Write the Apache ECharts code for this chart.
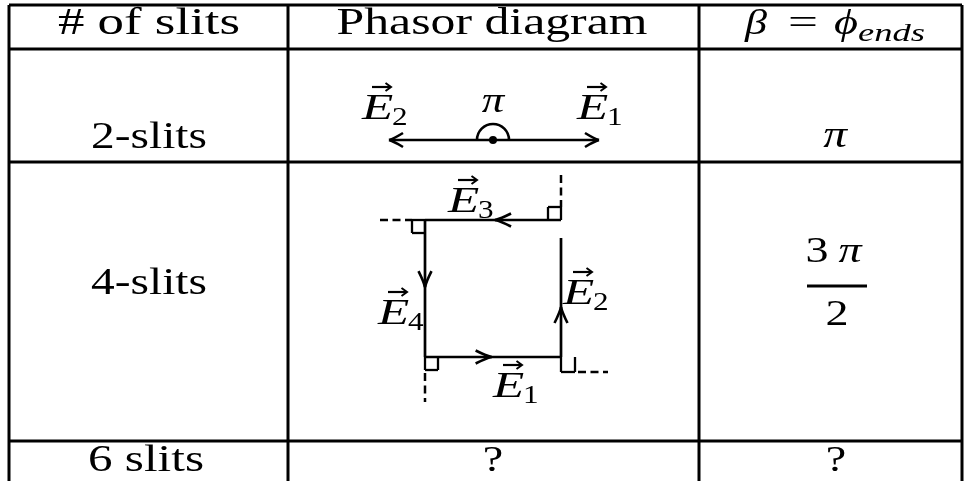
<!DOCTYPE html>
<html><head><meta charset="utf-8">
<script src="https://cdn.jsdelivr.net/npm/echarts@6/dist/echarts.min.js"></script>
<style>html,body{margin:0;padding:0;background:#fff}#c{width:964px;height:481px}</style>
</head><body><div id="c"></div>
<script>
// ---------------- data ----------------
const headers = ['# of slits', 'Phasor diagram'];
const betaHeader = ['β', '=', 'ϕ', 'ends'];
const slitLabels = ['2-slits', '4-slits', '6 slits'];
const betaTwo = 'π';
const betaFourNum = ['3', 'π'];
const betaFourDen = '2';
const unknownMark = '?';
const twoSlitAngleLabel = 'π';
const twoSlitSubscripts = ['1', '2'];
const fourSlitSubscripts = ['1', '2', '3', '4'];

// diagram geometry (diagram units = axis units)
const columnEdges = [9, 288, 699, 962];
const rowEdges = [5, 49, 162, 441];
const tableBottom = 481;
const twoSlitOrigin = [493, 140];
const twoSlitTips = [[599, 140], [389, 140]];            // E1, E2
const fourSlitVectors = [                                  // x1, y1, x2, y2, arrow position (fraction)
  [425, 357, 561, 357, 0.49],
  [561, 357, 561, 238, 0.42],
  [561, 220, 425, 220, 0.485],
  [425, 220, 425, 357, 0.49]
];
const rightAngleMarks = [
  [412, 220, 412, 233], [412, 233, 425, 233], [412, 220, 425, 220],
  [548, 207, 561, 207], [548, 207, 548, 220], [561, 207, 561, 220],
  [425, 370, 438, 370], [438, 357, 438, 370], [425, 357, 425, 370],
  [561, 357, 561, 372], [561, 372, 575, 372], [575, 357, 575, 372]
];
const dashedExtensions = [
  [380, 220, 412, 220],
  [561, 175, 561, 207],
  [425, 373, 425, 402],
  [578, 372, 608, 372]
];
const fractionBar = [[807, 286, 867, 286]];

// ---------------- layout / style ----------------
const FONT = '"Liberation Serif", "DejaVu Serif", serif';
const SX = 1.28;
const MID = 0.34;
const textRuns = [
  // content, x, baseline, size, italic, align, target width (0 = default stretch)
  [headers[0], 149, 37, 37, false, 'center', 182],
  [headers[1], 492, 37, 37, false, 'center', 311],
  [betaHeader[0], 745, 37, 36, true, 'left', 22],
  [betaHeader[1], 803, 37, 36, false, 'center', 30],
  [betaHeader[2], 834, 37, 36, true, 'left', 24],
  [betaHeader[3], 858, 43, 25, true, 'left', 67],
  [slitLabels[0], 149, 151, 37, false, 'center', 116],
  [slitLabels[1], 149, 297, 37, false, 'center', 116],
  [slitLabels[2], 146, 474, 37, false, 'center', 116],
  [betaTwo, 835, 150, 37, true, 'center', 0],
  [betaFourNum[0], 817, 265, 36, false, 'center', 0],
  [betaFourNum[1], 850, 265, 36, true, 'center', 0],
  [betaFourDen, 837, 328, 36, false, 'center', 0],
  [unknownMark, 493, 474, 36, false, 'center', 0],
  [unknownMark, 836, 474, 36, false, 'center', 0],
  [twoSlitAngleLabel, 493, 115, 35, true, 'center', 0]
];
const vectorLabels = [
  // subscript, E left, baseline
  [twoSlitSubscripts[1], 362, 122],
  [twoSlitSubscripts[0], 577, 122],
  [fourSlitSubscripts[2], 448, 215],
  [fourSlitSubscripts[1], 563, 307],
  [fourSlitSubscripts[3], 378, 327],
  [fourSlitSubscripts[0], 493, 400]
];

// ---------------- helpers ----------------
const mctx = document.createElement('canvas').getContext('2d');
function fitScale(str, size, italic, target) {
  if (!target) return SX;
  mctx.font = (italic ? 'italic ' : '') + size + 'px ' + FONT;
  const w = mctx.measureText(str).width;
  return w > 0 ? target / w : SX;
}
function segEl(api, x1, y1, x2, y2, lw, dash) {
  const p = api.coord([x1, y1]), q = api.coord([x2, y2]);
  return {type: 'line', shape: {x1: p[0], y1: p[1], x2: q[0], y2: q[1]},
    style: {stroke: '#000', lineWidth: lw, lineDash: dash || null, lineCap: 'butt'}};
}
function headEl(p, ang, len, hw, lw) {
  const c = Math.cos(ang), s = Math.sin(ang);
  const bx = p[0] - c * len, by = p[1] - s * len;
  const b1 = [bx - s * hw, by + c * hw], b2 = [bx + s * hw, by - c * hw];
  const m = [p[0] - c * len * 0.35, p[1] - s * len * 0.35];
  return {type: 'group', children: [
    {type: 'bezierCurve', shape: {x1: b1[0], y1: b1[1], x2: p[0], y2: p[1], cpx1: m[0] - s * hw * 0.2, cpy1: m[1] + c * hw * 0.2}, style: {stroke: '#000', fill: null, lineWidth: lw}},
    {type: 'bezierCurve', shape: {x1: b2[0], y1: b2[1], x2: p[0], y2: p[1], cpx1: m[0] + s * hw * 0.2, cpy1: m[1] - c * hw * 0.2}, style: {stroke: '#000', fill: null, lineWidth: lw}}
  ]};
}
function textEl(p, str, size, italic, align, sx) {
  return {type: 'text', x: p[0], y: p[1] - MID * size, scaleX: sx || SX, scaleY: 1,
    style: {text: str, fontFamily: FONT, fontSize: size, fontStyle: italic ? 'italic' : 'normal',
      fill: '#000', align: align, verticalAlign: 'middle'}};
}

// table rules
const tableRules = [];
rowEdges.forEach(y => tableRules.push([columnEdges[0], y, columnEdges[3], y]));
columnEdges.forEach(x => tableRules.push([x, rowEdges[0], x, tableBottom]));

const chart = echarts.init(document.getElementById('c'));
chart.setOption({
  animation: false,
  backgroundColor: '#fff',
  grid: {left: 0, right: 0, top: 0, bottom: 0},
  xAxis: {type: 'value', min: 0, max: 964, show: false},
  yAxis: {type: 'value', min: 0, max: 481, inverse: true, show: false},
  series: [
    {type: 'custom', name: 'table', data: tableRules,
      renderItem: (pa, api) => segEl(api, api.value(0), api.value(1), api.value(2), api.value(3), 3)},
    {type: 'custom', name: 'fraction', data: fractionBar,
      renderItem: (pa, api) => segEl(api, api.value(0), api.value(1), api.value(2), api.value(3), 3)},
    {type: 'custom', name: 'marks', data: rightAngleMarks,
      renderItem: (pa, api) => segEl(api, api.value(0), api.value(1), api.value(2), api.value(3), 2.3)},
    {type: 'custom', name: 'dashed', data: dashedExtensions,
      renderItem: (pa, api) => segEl(api, api.value(0), api.value(1), api.value(2), api.value(3), 2.5, [8, 4.5])},
    {type: 'custom', name: 'twoSlit', data: twoSlitTips,
      renderItem: (pa, api) => {
        const o = api.coord(twoSlitOrigin), t = api.coord([api.value(0), api.value(1)]);
        const ang = Math.atan2(t[1] - o[1], t[0] - o[0]);
        const kids = [
          {type: 'line', shape: {x1: o[0], y1: o[1], x2: t[0] - Math.cos(ang), y2: t[1]}, style: {stroke: '#000', lineWidth: 2.7}},
          headEl(t, ang, 14, 7, 2.6)
        ];
        if (pa.dataIndex === 0) {
          kids.push({type: 'arc', shape: {cx: o[0], cy: o[1], r: 16, startAngle: Math.PI, endAngle: 2 * Math.PI, clockwise: true}, style: {stroke: '#000', fill: null, lineWidth: 2.6}});
          kids.push({type: 'circle', shape: {cx: o[0], cy: o[1], r: 4}, style: {fill: '#000'}});
        }
        return {type: 'group', children: kids};
      }},
    {type: 'custom', name: 'fourSlit', data: fourSlitVectors,
      renderItem: (pa, api) => {
        const a = api.coord([api.value(0), api.value(1)]), b = api.coord([api.value(2), api.value(3)]);
        const f = api.value(4);
        const ang = Math.atan2(b[1] - a[1], b[0] - a[0]);
        const tip = [a[0] + (b[0] - a[0]) * f, a[1] + (b[1] - a[1]) * f];
        return {type: 'group', children: [
          {type: 'line', shape: {x1: a[0], y1: a[1], x2: b[0], y2: b[1]}, style: {stroke: '#000', lineWidth: 2.7}},
          headEl(tip, ang, 16, 6.5, 2.6)
        ]};
      }},
    {type: 'custom', name: 'texts', data: textRuns.map(r => [r[1], r[2]]),
      renderItem: (pa, api) => {
        const r = textRuns[pa.dataIndex];
        return textEl(api.coord([api.value(0), api.value(1)]), r[0], r[3], r[4], r[5], fitScale(r[0], r[3], r[4], r[6]));
      }},
    {type: 'custom', name: 'vectorLabels', data: vectorLabels.map(r => [r[1], r[2]]),
      renderItem: (pa, api) => {
        const sub = vectorLabels[pa.dataIndex][0];
        const p = api.coord([api.value(0), api.value(1)]);
        const ay = p[1] - 35;
        return {type: 'group', children: [
          textEl(p, 'E', 36, true, 'left', 1.42),
          textEl([p[0] + 30, p[1] + 5], sub, 26, false, 'left', 1.2),
          {type: 'line', shape: {x1: p[0] + 10, y1: ay, x2: p[0] + 28, y2: ay}, style: {stroke: '#000', lineWidth: 2.2}},
          {type: 'polyline', shape: {points: [[p[0] + 23.5, ay - 4], [p[0] + 29, ay], [p[0] + 23.5, ay + 4]]}, style: {stroke: '#000', fill: null, lineWidth: 2}}
        ]};
      }}
  ]
});
</script></body></html>
